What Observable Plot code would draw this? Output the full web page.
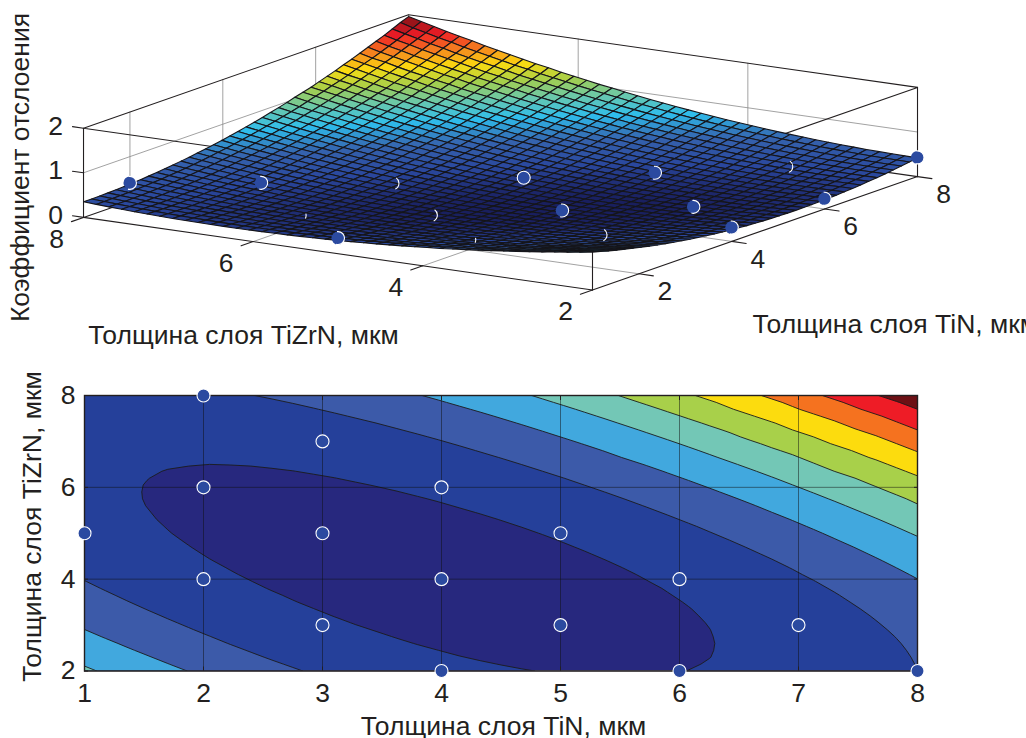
<!DOCTYPE html>
<html><head><meta charset="utf-8">
<script src="https://cdn.jsdelivr.net/npm/d3@7"></script>
<script src="https://cdn.jsdelivr.net/npm/@observablehq/plot@0.6"></script>
<style>html,body{margin:0;padding:0;background:#fff;overflow:hidden}svg{display:block}</style>
</head><body><div id="upper"></div><div id="lower"></div>
<script>
// Surface samples: TiN 1..8 and TiZrN 2..8 in 41 steps each, in thousandths
const tinSamples = d3.range(41).map(i => 1 + i * 0.175);
const tizrnSamples = d3.range(41).map(j => 2 + j * 0.15);
const zThousandths = [
[850,799,750,704,659,617,576,538,501,467,435,404,376,350,326,304,284,266,250,236,224,215,207,201,198,196,197,199,204,211,219,230,243,258,275,294,315,338,363,391,420],
[808,759,711,666,623,581,542,505,470,437,406,377,350,325,302,281,262,246,231,218,208,199,192,188,186,185,187,190,196,204,214,225,239,255,273,293,315,339,365,394,424],
[768,720,674,630,588,548,510,474,440,408,378,351,325,301,280,260,242,227,213,202,192,185,180,176,175,176,178,183,190,199,209,222,237,254,273,294,317,342,369,398,430],
[729,682,637,595,554,515,479,444,412,381,353,326,302,279,259,240,224,210,197,187,179,172,168,166,166,168,171,177,185,195,207,221,237,255,275,297,321,347,375,405,437],
[691,646,603,561,522,485,449,416,385,356,328,303,280,259,240,222,207,194,183,174,167,162,158,157,158,161,166,173,182,193,206,221,238,257,278,301,326,353,382,413,446],
[655,611,570,530,492,456,422,390,360,332,306,282,260,240,222,206,192,180,170,162,156,152,150,150,152,156,162,170,181,193,207,223,241,261,283,307,333,361,391,423,458],
[621,578,538,499,462,428,395,364,336,309,284,262,241,222,206,191,178,167,159,152,147,144,143,145,148,153,160,169,181,194,209,226,245,267,290,315,342,371,402,435,470],
[588,547,508,470,435,402,370,341,313,288,265,243,224,206,191,177,166,156,149,143,140,138,138,141,145,151,160,170,182,197,213,231,252,274,298,324,352,383,415,449,485],
[557,517,479,443,409,377,347,319,293,269,246,226,208,192,178,165,155,147,140,136,134,133,135,138,144,151,161,172,186,201,219,238,259,283,308,335,365,396,429,464,501],
[528,488,452,417,384,354,325,298,273,250,230,211,194,179,166,155,146,139,134,130,129,130,133,138,144,153,164,176,191,207,226,246,269,293,320,348,378,411,445,481,520],
[499,461,426,393,361,332,304,279,255,234,214,197,181,167,156,146,138,132,128,126,126,128,132,138,146,156,168,182,197,215,235,256,280,306,333,363,394,428,463,500,540],
[472,436,402,370,340,312,286,261,239,219,201,184,170,157,147,138,132,127,124,124,125,128,133,141,150,161,174,189,206,224,245,268,293,320,348,379,411,446,482,521,561],
[446,412,379,349,320,293,268,245,224,205,188,173,160,149,140,132,127,124,122,124,125,129,136,144,156,167,181,197,215,235,257,281,307,335,365,397,430,466,504,543,585],
[423,389,358,329,301,276,252,231,211,193,178,164,152,142,134,128,124,122,122,124,127,133,140,150,161,175,190,208,227,248,271,296,323,352,383,416,451,488,527,567,610],
[400,368,338,310,284,260,238,217,199,183,168,156,145,136,130,125,122,121,122,125,130,137,146,157,170,184,201,219,240,262,287,313,341,371,404,438,474,512,552,593,637],
[379,349,320,293,269,246,225,206,189,174,160,149,140,133,127,124,122,122,125,129,135,143,153,165,179,195,213,233,255,278,304,331,361,392,425,461,498,537,578,621,666],
[360,331,304,278,255,233,213,196,180,166,154,144,136,130,126,124,124,125,129,134,142,151,162,176,191,208,227,248,271,296,322,351,382,414,449,485,524,564,606,650,697],
[342,314,288,264,242,222,203,187,173,160,149,141,134,129,126,125,126,129,134,141,150,160,173,188,204,222,242,265,289,315,343,373,405,438,474,512,551,593,636,682,729],
[326,299,275,252,231,212,195,180,167,155,146,139,133,130,128,129,131,135,141,149,159,171,185,201,218,238,259,283,308,335,365,396,429,464,501,540,581,623,668,715,763],
[311,286,263,241,221,204,188,174,162,152,144,138,134,132,132,133,137,142,150,159,170,183,198,215,234,255,278,303,329,358,388,421,455,491,529,570,612,656,701,749,799],
[298,274,252,232,213,197,183,170,160,151,144,139,136,136,136,139,144,151,160,170,183,197,213,232,252,274,298,324,352,382,414,447,483,520,560,601,644,690,737,786,837],
[286,263,243,224,207,192,179,167,158,151,145,142,140,141,143,147,153,161,171,183,197,212,230,250,271,295,320,347,376,407,440,475,512,551,592,634,679,725,774,824,876],
[276,255,235,217,202,188,176,166,158,152,148,146,146,147,151,156,164,173,184,197,212,229,248,269,292,317,343,372,402,435,469,505,543,583,625,669,715,763,812,864,917],
[267,247,229,213,198,186,175,167,160,155,152,151,152,155,160,166,176,186,199,213,230,248,268,290,314,340,368,398,430,463,499,537,576,618,661,706,753,802,853,906,961],
[260,241,224,209,196,185,176,168,163,160,158,158,161,165,171,179,189,201,215,231,248,268,289,313,338,366,395,426,459,494,531,570,610,653,698,744,792,843,895,949,1010],
[254,237,221,207,196,186,178,172,168,165,165,167,171,176,184,193,204,217,233,250,269,290,312,337,364,392,423,455,490,526,564,604,646,690,736,784,834,885,939,994,1050],
[250,234,219,207,197,188,181,177,174,173,174,177,182,189,198,208,221,235,252,270,291,313,337,363,391,421,453,486,522,560,599,641,684,729,777,826,877,930,985,1040,1100],
[247,232,219,208,199,192,186,183,181,182,184,189,195,203,213,225,239,255,273,292,314,337,363,391,420,451,484,519,556,595,636,679,723,770,819,869,922,976,1030,1090,1150],
[246,232,221,211,203,197,193,191,191,192,196,202,209,219,230,243,259,276,295,316,339,364,390,419,450,482,517,553,592,632,674,718,764,812,862,914,968,1020,1080,1140,1200],
[246,234,223,215,208,204,201,200,201,204,209,216,225,236,249,263,280,298,319,341,365,391,420,450,482,516,551,589,629,671,714,760,807,856,908,961,1020,1070,1130,1190,1260],
[248,237,228,221,215,212,210,211,213,218,224,232,242,255,269,284,302,322,344,368,393,421,450,482,515,550,588,627,668,711,756,803,851,902,955,1010,1070,1120,1180,1250,1310],
[251,242,234,228,224,222,221,223,227,233,240,250,261,275,290,307,327,348,371,396,423,452,483,516,552,589,628,668,710,754,800,848,897,950,1000,1060,1120,1180,1240,1300,1370],
[256,248,241,236,234,233,234,237,242,249,258,269,282,296,313,332,352,375,399,426,454,484,516,550,587,625,665,706,750,796,844,893,945,999,1050,1110,1170,1230,1300,1360,1430],
[262,255,250,246,245,246,248,252,259,267,277,289,304,320,338,358,379,403,429,457,487,518,552,587,625,664,705,749,794,841,890,941,994,1050,1110,1170,1230,1290,1350,1420,1490],
[270,264,260,258,258,260,263,269,277,286,298,311,327,344,364,385,408,433,461,490,521,554,589,626,664,705,748,793,839,888,938,991,1050,1100,1160,1220,1280,1350,1410,1480,1550],
[280,275,272,271,272,275,281,288,296,307,320,335,352,371,391,414,438,465,494,524,556,591,627,665,706,748,792,838,886,936,988,1040,1100,1160,1220,1280,1340,1410,1470,1540,1620],
[290,287,285,286,288,293,299,307,318,330,344,360,378,398,420,444,470,498,528,560,594,629,667,707,748,792,838,885,935,986,1040,1090,1150,1210,1270,1340,1400,1470,1540,1610,1680],
[303,301,300,302,306,311,319,329,340,354,369,387,406,428,451,476,504,533,564,597,632,670,709,750,793,838,885,934,985,1040,1090,1150,1210,1270,1330,1400,1460,1530,1600,1670,1750],
[317,316,317,320,325,332,341,351,364,379,396,415,436,458,483,510,538,569,602,636,673,711,752,794,839,885,934,984,1040,1090,1150,1210,1270,1330,1400,1460,1530,1600,1670,1740,1820],
[332,332,335,339,345,353,363,376,390,406,424,444,466,491,517,545,575,607,641,677,715,755,797,841,886,934,985,1040,1090,1150,1200,1260,1330,1390,1450,1520,1590,1660,1740,1810,1890],
[349,350,354,359,367,376,388,401,417,434,454,475,499,524,552,581,613,646,681,719,758,799,843,888,936,985,1040,1090,1140,1200,1260,1320,1390,1450,1520,1590,1660,1730,1810,1890,1960]
];
const zAt = (i,j) => zThousandths[j][i] / 1000;
// Measured experiment points
const pointTiN   = [2,3,4,5,6,7,8,2,3,4,5,6,1,2,3,4];
const pointTiZrN = [8,7,6,5,4,3,2,6,5,4,3,2,5,4,3,2];
const pointZ     = [.41,.32,.22,.25,.27,.32,.43,.22,.14,.15,.14,.23,.35,.22,.24,.31];
const pointShown = ["full","full","arc","ring","full","arc","full","tiny","arc","full","full","full","full","tiny","arc","full"];
const points = pointTiN.map((x,i)=>({x,y:pointTiZrN[i],z:pointZ[i],shown:pointShown[i]}));

const contourLevels = [0,.21,.42,.62,.82,1.02,1.22,1.42,1.62,1.82];
const contourColors = ["#27287e","#25409a","#3c5aa9","#41a8de","#73c7b6","#a8d04a","#fcdc0e","#f5721f","#ee1c26","#6d1015"];
const surfaceStops = [.13,.3,.5,.72,.92,1.12,1.32,1.52,1.72,1.92];
const surfaceColors = ["#191f5e","#2a479d","#3563ae","#2fbdec","#68c8ae","#a5cf4b","#fbdc10","#f5821f","#ee1c26","#8b1218"];
const tinTicks = [2,4,6,8], tizrnTicks = [2,4,6,8], zTicks = [0,1,2];
const bottomTinTicks = [1,2,3,4,5,6,7,8], bottomTizrnTicks = [2,4,6,8];
const FONT = "Liberation Sans", INK = "#231f20", LABEL = 26.5;

// Fixed orthographic view of the 3-D box
const proj = (x,y,z) => [592 + (x-1)*46.43 - (y-2)*84.83, 289.5 - (x-1)*16.2 - (y-2)*12.1 - z*44.6];
const P = (a) => { const [px,py] = proj(...a); return {px,py}; };
const polyline = (id, pts) => pts.map(a => ({id, ...P(a)}));

const cells = [];
for (let i = 39; i >= 0; i--) for (let j = 39; j >= 0; j--) {
  const c = [[i,j],[i+1,j],[i+1,j+1],[i,j+1],[i,j]];
  const z = d3.mean(c.slice(0,4), ([a,b]) => zAt(a,b));
  for (const [a,b] of c) cells.push({cell:`${i}-${j}`, z, ...P([tinSamples[a], tizrnSamples[b], zAt(a,b)])});
}
const gridLines = [
  ...polyline("w1",[[1,8,1],[8,8,1],[8,2,1]]),
  ...[2,4,6].flatMap(x => polyline("wx"+x,[[x,8,0],[x,8,2]])),
  ...[4,6].flatMap(y => polyline("wy"+y,[[8,y,0],[8,y,2]])),
  ...[2,4,6].flatMap(x => polyline("fx"+x,[[x,2,0],[x,8,0]])),
  ...[4,6].flatMap(y => polyline("fy"+y,[[1,y,0],[8,y,0]])),
  ...polyline("d",[[8,8,0],[8,8,2]])
];
const boxLines = [
  ...polyline("top",[[1,8,2],[8,8,2],[8,2,2],[1,2,2],[1,8,2]]),
  ...polyline("floor",[[1,8,0],[1,2,0],[8,2,0]]),
  ...polyline("back",[[1,8,0],[8,8,0],[8,2,0]]),
  ...polyline("vA",[[1,8,0],[1,8,2]]),
  ...polyline("vB",[[1,2,0],[1,2,2]]),
  ...polyline("vC",[[8,2,0],[8,2,2]]),
  ...tizrnTicks.flatMap(y => polyline("ty"+y,[[1,y,0],[0.74,y,0]])),
  ...tinTicks.flatMap(x => polyline("tx"+x,[[x,2,0],[x,1.83,0]])),
  ...zTicks.flatMap(z => polyline("tz"+z,[[1,8,z],[1,8.13,z]]))
];
const dots3d = points.map(d => ({...d, ...P([d.x,d.y,d.z])}));
const tickText = {fontFamily:FONT, fontSize:LABEL, fill:INK, text:"t", x:"px", y:"py"};
const titleText = {fontFamily:FONT, fontSize:LABEL, fill:INK, text:d=>d, frameAnchor:"top-left", textAnchor:"middle", lineAnchor:"middle"};

const chart3d = Plot.plot({
  width:1026, height:355, margin:0, axis:null,
  x:{domain:[0,1026],range:[0,1026]}, y:{domain:[0,355],range:[0,355]},
  color:{type:"linear",domain:surfaceStops,range:surfaceColors,interpolate:"rgb",clamp:true},
  marks:[
    Plot.line(gridLines,{x:"px",y:"py",z:"id",stroke:"#8a8a8a",strokeWidth:.8}),
    Plot.line(boxLines,{x:"px",y:"py",z:"id",stroke:INK,strokeWidth:1.1}),
    Plot.line(cells,{x:"px",y:"py",z:"cell",fill:"z",stroke:"#15151a",strokeWidth:1.1}),
    Plot.dot(dots3d.filter(d=>d.shown=="full"||d.shown=="ring"),{x:"px",y:"py",r:6.5,fill:"#2b4aa0"}),
    Plot.dot(dots3d.filter(d=>d.shown=="ring"),{x:"px",y:"py",r:6.5,stroke:"#fff",strokeWidth:1.1}),
    Plot.dot(dots3d.filter(d=>d.shown=="full"),{x:"px",y:"py",r:6.5,stroke:"#fff",strokeWidth:1.1,strokeDasharray:"12 16.8 12"}),
    Plot.dot(dots3d.filter(d=>d.shown=="arc"),{x:"px",y:"py",r:6.5,stroke:"#fff",strokeWidth:1.1,strokeDasharray:"7 26.8 7"}),
    Plot.dot(dots3d.filter(d=>d.shown=="tiny"),{x:"px",y:"py",r:6.5,stroke:"#fff",strokeWidth:1.1,strokeDasharray:"3 34.8 3"}),
    Plot.text(zTicks.map(t=>({t:String(t),...P([1,8,t])})),{...tickText,dx:-28,dy:-2}),
    Plot.text(tizrnTicks.map(t=>({t:String(t),...P([1,t,0])})),{...tickText,dx:-27,dy:22}),
    Plot.text(tinTicks.map(t=>({t:String(t),...P([t,2,0])})),{...tickText,dx:26,dy:18}),
    Plot.text(["Коэффициент отслоения"],{...titleText,dx:20,dy:167,rotate:-90}),
    Plot.text(["Толщина слоя TiZrN, мкм"],{...titleText,dx:243,dy:335}),
    Plot.text(["Толщина слоя TiN, мкм"],{...titleText,textAnchor:"start",dx:752,dy:324})
  ]
});
document.getElementById("upper").append(chart3d);

const chart2d = Plot.plot({
  width:1026, height:383, marginLeft:84, marginRight:109, marginTop:40, marginBottom:67.5,
  x:{domain:[1,8],label:null}, y:{domain:[2,8],label:null},
  color:{type:"ordinal",domain:contourLevels,range:contourColors},
  marks:[
    Plot.contour(zThousandths.flat().map(v=>v/1000),{
      width:41,height:41,x1:0.9125,x2:8.0875,y1:1.925,y2:8.075,
      fill:Plot.identity,thresholds:contourLevels,stroke:"#1c1c1c",strokeWidth:.9,clip:true
    }),
    Plot.gridX(bottomTinTicks,{stroke:"#111",strokeOpacity:.55,strokeWidth:.9}),
    Plot.gridY(bottomTizrnTicks,{stroke:"#111",strokeOpacity:.55,strokeWidth:.9}),
    Plot.axisX(bottomTinTicks,{anchor:"bottom",fontFamily:FONT,fontSize:LABEL,fill:INK,stroke:INK,tickFormat:"d",tickSize:-4,tickPadding:16.5,label:null}),
    Plot.axisY(bottomTizrnTicks,{anchor:"left",fontFamily:FONT,fontSize:LABEL,fill:INK,stroke:INK,tickFormat:"d",tickSize:-4,tickPadding:13,label:null}),
    Plot.axisX(bottomTinTicks,{anchor:"top",tickFormat:()=>"",stroke:INK,tickSize:-4,label:null}),
    Plot.axisY(bottomTizrnTicks,{anchor:"right",tickFormat:()=>"",stroke:INK,tickSize:-4,label:null}),
    Plot.frame({stroke:INK,strokeWidth:1.4}),
    Plot.dot(points,{x:"x",y:"y",r:6.5,fill:"#2b4aa0",stroke:"#fff",strokeWidth:1.1}),
    Plot.text(["Толщина слоя TiN, мкм"],{...titleText,dx:419,dy:331}),
    Plot.text(["Толщина слоя TiZrN, мкм"],{...titleText,dx:-52,dy:131,rotate:-90})
  ]
});
document.getElementById("lower").append(chart2d);
</script></body></html>
